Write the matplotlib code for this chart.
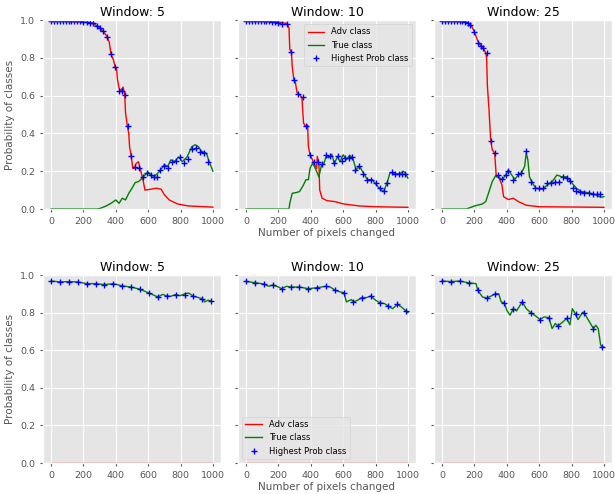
import numpy as np
import matplotlib.pyplot as plt

plt.style.use('ggplot')

windows = [5, 10, 25]

# ---- top row: attack that succeeds ----
adv_x_t5 = [0, 200, 250, 280, 300, 320, 345, 360, 370, 385, 395, 405, 410, 420, 430, 445, 455, 460, 470, 480, 485, 495,
            505, 515, 525, 540, 555, 570, 580, 620, 650, 680, 700, 730, 780, 850, 1000]
adv_y_t5 = [0.995, 0.99, 0.985, 0.97, 0.96, 0.94, 0.915, 0.88, 0.82, 0.79, 0.755, 0.74, 0.685, 0.64, 0.625, 0.645, 0.605,
            0.51, 0.445, 0.40, 0.33, 0.28, 0.215, 0.215, 0.24, 0.25, 0.20, 0.145, 0.10, 0.105, 0.11, 0.105, 0.075, 0.048,
            0.027, 0.016, 0.01]
true_x_t5 = [0, 280, 300, 340, 370, 400, 420, 440, 460, 480, 500, 520, 540, 560, 580, 600, 620, 640, 660, 680, 700, 720,
             740, 760, 790, 810, 840, 870, 890, 910, 930, 960, 975, 1000]
true_y_t5 = [0.0, 0.0, 0.002, 0.016, 0.03, 0.048, 0.03, 0.057, 0.048, 0.083, 0.11, 0.14, 0.145, 0.16, 0.18, 0.195, 0.175,
             0.175, 0.19, 0.21, 0.235, 0.225, 0.26, 0.25, 0.275, 0.25, 0.275, 0.33, 0.34, 0.33, 0.305, 0.295, 0.255, 0.20]
mark_x_t5 = [0, 18, 36, 54, 72, 90, 108, 126, 144, 162, 180, 200, 220, 240, 260, 285, 300, 320, 345, 370, 395, 420, 440,
             455, 475, 495, 520, 545, 570, 590, 615, 635, 655, 675, 700, 725, 745, 770, 795, 820, 845, 870, 895, 920, 945, 970]
mark_y_t5 = [0.995, 0.995, 0.995, 0.995, 0.995, 0.995, 0.995, 0.995, 0.995, 0.995, 0.993, 0.99, 0.988, 0.985, 0.982,
             0.968, 0.96, 0.94, 0.91, 0.82, 0.75, 0.625, 0.625, 0.605, 0.44, 0.28, 0.22, 0.215, 0.17, 0.19, 0.18, 0.17,
             0.17, 0.205, 0.225, 0.215, 0.25, 0.255, 0.275, 0.245, 0.265, 0.32, 0.325, 0.30, 0.295, 0.25]

adv_x_t10 = [0, 200, 250, 265, 270, 280, 285, 295, 305, 315, 330, 345, 355, 365, 380, 385, 395, 410, 420, 435, 440, 450,
             455, 470, 500, 550, 600, 700, 800, 1000]
adv_y_t10 = [0.995, 0.99, 0.982, 0.96, 0.845, 0.83, 0.755, 0.685, 0.667, 0.615, 0.605, 0.59, 0.455, 0.44, 0.445, 0.33,
             0.287, 0.26, 0.24, 0.215, 0.278, 0.24, 0.10, 0.057, 0.044, 0.039, 0.027, 0.016, 0.012, 0.009]
true_x_t10 = [0, 265, 270, 285, 310, 330, 350, 370, 385, 395, 410, 420, 435, 450, 465, 480, 495, 510, 530, 545, 565, 580,
              600, 620, 640, 660, 680, 700, 725, 750, 780, 800, 830, 850, 870, 890, 920, 950, 970, 985, 1000]
true_y_t10 = [0.0, 0.0, 0.03, 0.083, 0.087, 0.092, 0.12, 0.155, 0.155, 0.215, 0.24, 0.23, 0.20, 0.17, 0.23, 0.24, 0.278,
              0.27, 0.29, 0.24, 0.278, 0.25, 0.287, 0.26, 0.285, 0.267, 0.207, 0.228, 0.19, 0.155, 0.155, 0.133, 0.104,
              0.092, 0.135, 0.193, 0.186, 0.186, 0.20, 0.19, 0.163]
mark_x_t10 = [0, 18, 36, 54, 72, 90, 108, 126, 144, 162, 180, 200, 220, 250, 275, 295, 320, 350, 370, 395, 420, 445, 470,
              495, 520, 545, 565, 590, 610, 635, 655, 675, 700, 720, 745, 770, 800, 825, 850, 870, 900, 920, 945, 965, 985]
mark_y_t10 = [0.995, 0.995, 0.995, 0.995, 0.995, 0.995, 0.995, 0.995, 0.993, 0.99, 0.988, 0.985, 0.98, 0.978, 0.83,
              0.685, 0.61, 0.59, 0.44, 0.285, 0.25, 0.25, 0.24, 0.285, 0.28, 0.245, 0.28, 0.255, 0.27, 0.27, 0.275, 0.207,
              0.225, 0.185, 0.155, 0.155, 0.14, 0.11, 0.095, 0.135, 0.195, 0.185, 0.185, 0.185, 0.185]

adv_x_t25 = [0, 150, 180, 200, 220, 240, 255, 270, 275, 280, 290, 300, 310, 325, 335, 350, 370, 380, 410, 440, 470, 520,
             600, 1000]
adv_y_t25 = [0.995, 0.99, 0.972, 0.936, 0.89, 0.862, 0.848, 0.827, 0.80, 0.65, 0.525, 0.366, 0.313, 0.296, 0.17, 0.17,
             0.127, 0.065, 0.05, 0.057, 0.04, 0.02, 0.012, 0.009]
true_x_t25 = [0, 150, 200, 250, 270, 290, 310, 330, 350, 370, 390, 410, 430, 450, 470, 490, 510, 520, 530, 540, 560, 580,
              620, 650, 680, 710, 740, 770, 800, 830, 860, 900, 950, 980, 1000]
true_y_t25 = [0.0, 0.0, 0.016, 0.027, 0.04, 0.092, 0.145, 0.175, 0.17, 0.155, 0.175, 0.207, 0.18, 0.157, 0.18, 0.19,
              0.225, 0.296, 0.26, 0.17, 0.135, 0.11, 0.104, 0.127, 0.145, 0.18, 0.17, 0.17, 0.14, 0.11, 0.092, 0.087,
              0.075, 0.062, 0.065]
mark_x_t25 = [0, 18, 36, 54, 72, 90, 108, 126, 144, 160, 175, 200, 220, 240, 255, 275, 300, 325, 345, 370, 395, 410, 440,
              470, 490, 520, 550, 575, 600, 625, 650, 675, 700, 720, 745, 770, 790, 810, 830, 855, 880, 905, 930, 955, 975]
mark_y_t25 = [0.995, 0.995, 0.995, 0.995, 0.995, 0.995, 0.995, 0.993, 0.99, 0.985, 0.975, 0.935, 0.88, 0.865, 0.85,
              0.825, 0.36, 0.295, 0.18, 0.16, 0.18, 0.20, 0.155, 0.185, 0.19, 0.305, 0.145, 0.11, 0.11, 0.11, 0.135, 0.14,
              0.145, 0.145, 0.17, 0.165, 0.15, 0.11, 0.095, 0.09, 0.085, 0.087, 0.08, 0.078, 0.077]

# ---- bottom row: attack that fails ----
adv_x_b = [0, 1000]
adv_y_b = [0.001, 0.001]

true_x_b5 = [0, 55, 110, 165, 220, 275, 330, 385, 440, 495, 550, 605, 660, 690, 715, 740, 770, 800, 825, 850, 880, 910,
             935, 950, 970, 990]
true_y_b5 = [0.968, 0.963, 0.965, 0.963, 0.954, 0.954, 0.949, 0.954, 0.942, 0.936, 0.924, 0.904, 0.883, 0.897, 0.888,
             0.887, 0.896, 0.89, 0.90, 0.904, 0.887, 0.88, 0.873, 0.857, 0.866, 0.862]
true_x_b10 = [0, 55, 110, 140, 165, 200, 220, 250, 275, 330, 385, 440, 495, 520, 550, 580, 605, 620, 650, 665, 690, 715,
              745, 770, 800, 825, 855, 880, 905, 935, 960, 990, 1000]
true_y_b10 = [0.966, 0.959, 0.952, 0.94, 0.947, 0.936, 0.927, 0.94, 0.936, 0.936, 0.927, 0.933, 0.94, 0.936, 0.919,
              0.91, 0.906, 0.857, 0.869, 0.857, 0.866, 0.88, 0.88, 0.888, 0.866, 0.853, 0.848, 0.834, 0.821, 0.844, 0.83,
              0.807, 0.80]
true_x_b25 = [0, 55, 110, 165, 210, 220, 250, 275, 300, 330, 350, 365, 385, 400, 420, 440, 460, 495, 520, 550, 580, 605,
              630, 660, 680, 700, 715, 740, 770, 790, 805, 825, 840, 870, 880, 905, 935, 950, 965, 980, 990, 1000]
true_y_b25 = [0.968, 0.965, 0.968, 0.958, 0.954, 0.919, 0.883, 0.878, 0.887, 0.90, 0.90, 0.857, 0.851, 0.812, 0.786,
              0.821, 0.809, 0.857, 0.821, 0.798, 0.781, 0.763, 0.777, 0.773, 0.715, 0.742, 0.729, 0.746, 0.769, 0.735,
              0.821, 0.791, 0.763, 0.803, 0.796, 0.759, 0.715, 0.733, 0.715, 0.627, 0.619, 0.616]

mark_x_b = [0, 55, 110, 165, 220, 275, 330, 385, 440, 495, 550, 605, 660, 715, 770, 825, 880, 935, 990]
mark_y_b5 = [0.968, 0.963, 0.965, 0.963, 0.954, 0.954, 0.949, 0.954, 0.942, 0.936, 0.924, 0.904, 0.883, 0.888, 0.893,
             0.895, 0.887, 0.873, 0.862]
mark_y_b10 = [0.966, 0.959, 0.952, 0.947, 0.927, 0.936, 0.936, 0.927, 0.933, 0.94, 0.919, 0.906, 0.857, 0.88, 0.888,
              0.853, 0.834, 0.844, 0.807]
mark_y_b25 = [0.968, 0.965, 0.968, 0.958, 0.919, 0.878, 0.90, 0.851, 0.821, 0.857, 0.798, 0.763, 0.773, 0.729, 0.769,
              0.791, 0.796, 0.715, 0.619]

top = [(adv_x_t5, adv_y_t5, true_x_t5, true_y_t5, mark_x_t5, mark_y_t5),
       (adv_x_t10, adv_y_t10, true_x_t10, true_y_t10, mark_x_t10, mark_y_t10),
       (adv_x_t25, adv_y_t25, true_x_t25, true_y_t25, mark_x_t25, mark_y_t25)]
bottom = [(adv_x_b, adv_y_b, true_x_b5, true_y_b5, mark_x_b, mark_y_b5),
          (adv_x_b, adv_y_b, true_x_b10, true_y_b10, mark_x_b, mark_y_b10),
          (adv_x_b, adv_y_b, true_x_b25, true_y_b25, mark_x_b, mark_y_b25)]

fig = plt.figure(figsize=(6.15, 4.94), dpi=100)
W, H = 615.0, 494.0
lefts = [43, 238, 434]
aw = 178
rows = [(20, 209), (275, 463)]

for r, panels in enumerate([top, bottom]):
    y0, y1 = rows[r]
    for c, (ax_, ay_, tx_, ty_, mx_, my_) in enumerate(panels):
        ax = fig.add_axes([lefts[c] / W, 1 - y1 / H, aw / W, (y1 - y0) / H])
        ax.plot(ax_, ay_, color='red', lw=1, label='Adv class')
        ax.plot(tx_, ty_, color='green', lw=1, label='True class')
        ax.plot(mx_, my_, '+', color='blue', ms=5, mew=1, label='Highest Prob class')
        ax.set_ylim(0, 1.0)
        ax.set_xlim(-50, 1050)
        ax.set_xticks([0, 200, 400, 600, 800, 1000])
        ax.set_yticks([0.0, 0.2, 0.4, 0.6, 0.8, 1.0])
        ax.tick_params(labelsize=6.8, length=2)
        ax.set_title('Window: %d' % windows[c], fontsize=9, pad=3)
        if c == 0:
            ax.set_ylabel('Probability of classes', fontsize=7.5)
        else:
            ax.set_yticklabels([])
        if c == 1:
            ax.set_xlabel('Number of pixels changed', fontsize=7.5, labelpad=2)
            loc = 'upper right' if r == 0 else 'lower left'
            ax.legend(loc=loc, fontsize=6, framealpha=0.8)

plt.savefig('out.png', dpi=100)
